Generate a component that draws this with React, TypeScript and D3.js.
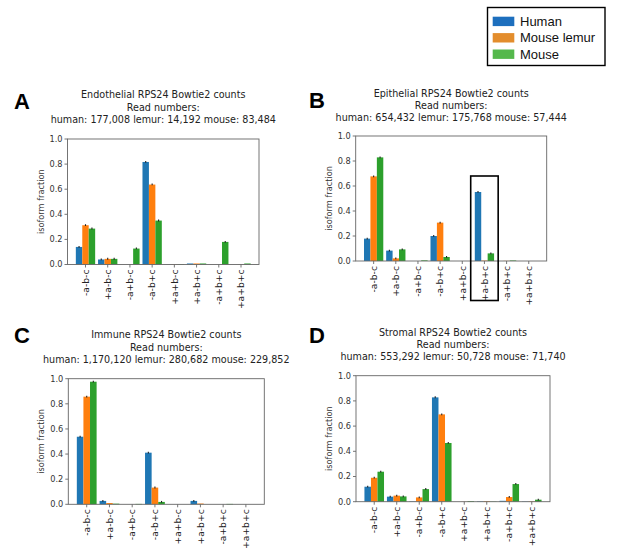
import React, { useRef, useEffect } from 'react';
import * as d3 from 'd3';

const isoforms = ['-a-b-c', '+a-b-c', '-a+b-c', '-a-b+c', '+a+b-c', '+a-b+c', '-a+b+c', '+a+b+c'];
const species = ['Human', 'Mouse lemur', 'Mouse'];
const yTicks = [0, 0.2, 0.4, 0.6, 0.8, 1.0];

const endothelialHuman = [0.14, 0.04, 0, 0.817, 0.001, 0.008, 0, 0];
const endothelialLemur = [0.313, 0.045, 0, 0.637, 0.002, 0.008, 0, 0.001];
const endothelialMouse = [0.286, 0.045, 0.127, 0.35, 0.003, 0.008, 0.18, 0.008];

const epithelialHuman = [0.179, 0.083, 0, 0.2, 0, 0.552, 0, 0];
const epithelialLemur = [0.677, 0.021, 0, 0.307, 0, 0.003, 0.001, 0];
const epithelialMouse = [0.829, 0.093, 0.005, 0.032, 0, 0.061, 0.004, 0];

const immuneHuman = [0.538, 0.027, 0, 0.411, 0, 0.027, 0, 0];
const immuneLemur = [0.857, 0.01, 0, 0.133, 0, 0.006, 0, 0];
const immuneMouse = [0.976, 0.005, 0.003, 0.019, 0, 0, 0.003, 0];

const stromalHuman = [0.119, 0.04, 0.003, 0.828, 0, 0.003, 0.007, 0.002];
const stromalLemur = [0.19, 0.048, 0.034, 0.693, 0.001, 0.005, 0.037, 0.003];
const stromalMouse = [0.238, 0.042, 0.1, 0.466, 0.005, 0.002, 0.14, 0.016];

const colors = ['#1f77b4', '#ff7f0e', '#2ca02c'];
const legendColors = ['#1d6fbe', '#e38d2d', '#55b84c'];
const barWidth = 0.29;
const xPad = 0.81; // matplotlib-ish x margins around the groups

interface PanelProps {
  letter: string;
  title: string;
  reads: string;
  values: number[][];
  left: number;
  right: number;
  top: number;
  bottom: number;
  titleY: number;
  letterX: number;
  letterY: number;
  highlight?: number;
}

const Panel: React.FC<PanelProps> = (p) => {
  const gRef = useRef<SVGGElement>(null);

  useEffect(() => {
    const g = d3.select(gRef.current);
    g.selectAll('*').remove();

    const x = d3.scaleLinear().domain([-xPad, 7 + xPad]).range([p.left, p.right]);
    const y = d3.scaleLinear().domain([0, 1]).range([p.bottom, p.top]);
    const font = 'DejaVu Sans, sans-serif';
    const axisColor = '#666';

    // bars
    p.values.forEach((series, s) => {
      g.append('g')
        .selectAll('rect')
        .data(series)
        .enter()
        .append('rect')
        .attr('x', (_, i) => x(i + (s - 1) * barWidth - barWidth / 2))
        .attr('width', x(barWidth) - x(0))
        .attr('y', (d) => y(d))
        .attr('height', (d) => y(0) - y(d))
        .attr('fill', colors[s]);

      // tiny error bars
      g.append('g')
        .selectAll('line')
        .data(series.map((v, i) => ({ v, i })).filter((d) => d.v > 0.01))
        .enter()
        .append('line')
        .attr('x1', (d) => x(d.i + (s - 1) * barWidth))
        .attr('x2', (d) => x(d.i + (s - 1) * barWidth))
        .attr('y1', (d) => y(d.v) - 1)
        .attr('y2', (d) => y(d.v) + 0.8)
        .attr('stroke', '#222')
        .attr('stroke-width', 1.1);
    });

    // frame
    g.append('rect')
      .attr('x', p.left)
      .attr('y', p.top)
      .attr('width', p.right - p.left)
      .attr('height', p.bottom - p.top)
      .attr('fill', 'none')
      .attr('stroke', axisColor)
      .attr('stroke-width', 0.9);

    // y axis
    const yt = g.append('g');
    yTicks.forEach((t) => {
      yt.append('line')
        .attr('x1', p.left - 3)
        .attr('x2', p.left)
        .attr('y1', y(t))
        .attr('y2', y(t))
        .attr('stroke', axisColor)
        .attr('stroke-width', 0.9);
      yt.append('text')
        .attr('x', p.left - 5)
        .attr('y', y(t))
        .attr('dy', '0.35em')
        .attr('text-anchor', 'end')
        .attr('font-family', font)
        .attr('font-size', 8.2)
        .attr('fill', '#333')
        .text(t.toFixed(1));
    });
    g.append('text')
      .attr('transform', `translate(${p.left - 24},${(p.top + p.bottom) / 2}) rotate(-90)`)
      .attr('text-anchor', 'middle')
      .attr('font-family', font)
      .attr('font-size', 8.2)
      .attr('fill', '#333')
      .text('isoform fraction');

    // x axis
    isoforms.forEach((lab, i) => {
      g.append('line')
        .attr('x1', x(i))
        .attr('x2', x(i))
        .attr('y1', p.bottom)
        .attr('y2', p.bottom + 3)
        .attr('stroke', axisColor)
        .attr('stroke-width', 0.9);
      g.append('text')
        .attr('transform', `translate(${x(i)},${p.bottom + 5}) rotate(-90)`)
        .attr('text-anchor', 'end')
        .attr('dy', '0.35em')
        .attr('font-family', font)
        .attr('font-size', 9.2)
        .attr('fill', '#222')
        .text(lab);
    });

    // title
    const cx = (p.left + p.right) / 2;
    [p.title, 'Read numbers:', p.reads].forEach((line, k) => {
      g.append('text')
        .attr('x', cx)
        .attr('y', p.titleY + k * 12.3)
        .attr('dy', '0.35em')
        .attr('text-anchor', 'middle')
        .attr('font-family', font)
        .attr('font-size', 9.6)
        .attr('fill', '#222')
        .text(line);
    });

    g.append('text')
      .attr('x', p.letterX)
      .attr('y', p.letterY)
      .attr('font-family', 'Liberation Sans, Arial, sans-serif')
      .attr('font-weight', 'bold')
      .attr('font-size', 22)
      .attr('fill', '#000')
      .text(p.letter);

    if (p.highlight !== undefined) {
      g.append('rect')
        .attr('x', x(p.highlight - 0.62))
        .attr('y', y(0.68))
        .attr('width', x(1.24) - x(0))
        .attr('height', p.bottom + 39.5 - y(0.68))
        .attr('fill', 'none')
        .attr('stroke', '#000')
        .attr('stroke-width', 1.6);
    }
  }, [p]);

  return <g ref={gRef} />;
};

const Legend: React.FC = () => (
  <g>
    <rect x={487.5} y={7.5} width={117.5} height={58} fill="#fff" stroke="#000" strokeWidth={1.4} />
    {species.map((s, i) => (
      <g key={s}>
        <rect x={492.7} y={16.7 + i * 16.4} width={21.6} height={9.4} fill={legendColors[i]} />
        <text
          x={520}
          y={21.4 + i * 16.4}
          dy="0.35em"
          fontFamily="Liberation Sans, Arial, sans-serif"
          fontSize={13}
          fill="#111"
        >
          {s}
        </text>
      </g>
    ))}
  </g>
);

export default function App() {
  return (
    <svg width={617} height={558} style={{ position: 'absolute', left: 0, top: 0, background: '#fff' }}>
      <rect width={617} height={558} fill="#fff" />
      <Legend />
      <Panel
        letter="A"
        title="Endothelial RPS24 Bowtie2 counts"
        reads="human: 177,008 lemur: 14,192 mouse: 83,484"
        values={[endothelialHuman, endothelialLemur, endothelialMouse]}
        left={67.5}
        right={259}
        top={139}
        bottom={264.5}
        titleY={95}
        letterX={14}
        letterY={108.5}
      />
      <Panel
        letter="B"
        title="Epithelial RPS24 Bowtie2 counts"
        reads="human: 654,432 lemur: 175,768 mouse: 57,444"
        values={[epithelialHuman, epithelialLemur, epithelialMouse]}
        left={355.7}
        right={546.7}
        top={136}
        bottom={261}
        titleY={93.3}
        letterX={309}
        letterY={107.5}
        highlight={5}
      />
      <Panel
        letter="C"
        title="Immune RPS24 Bowtie2 counts"
        reads="human: 1,170,120 lemur: 280,682 mouse: 229,852"
        values={[immuneHuman, immuneLemur, immuneMouse]}
        left={68.3}
        right={264.3}
        top={378.7}
        bottom={504.3}
        titleY={335}
        letterX={14}
        letterY={342.5}
      />
      <Panel
        letter="D"
        title="Stromal RPS24 Bowtie2 counts"
        reads="human: 553,292 lemur: 50,728 mouse: 71,740"
        values={[stromalHuman, stromalLemur, stromalMouse]}
        left={356}
        right={550}
        top={375.7}
        bottom={501.7}
        titleY={332.3}
        letterX={309}
        letterY={342.5}
      />
    </svg>
  );
}
